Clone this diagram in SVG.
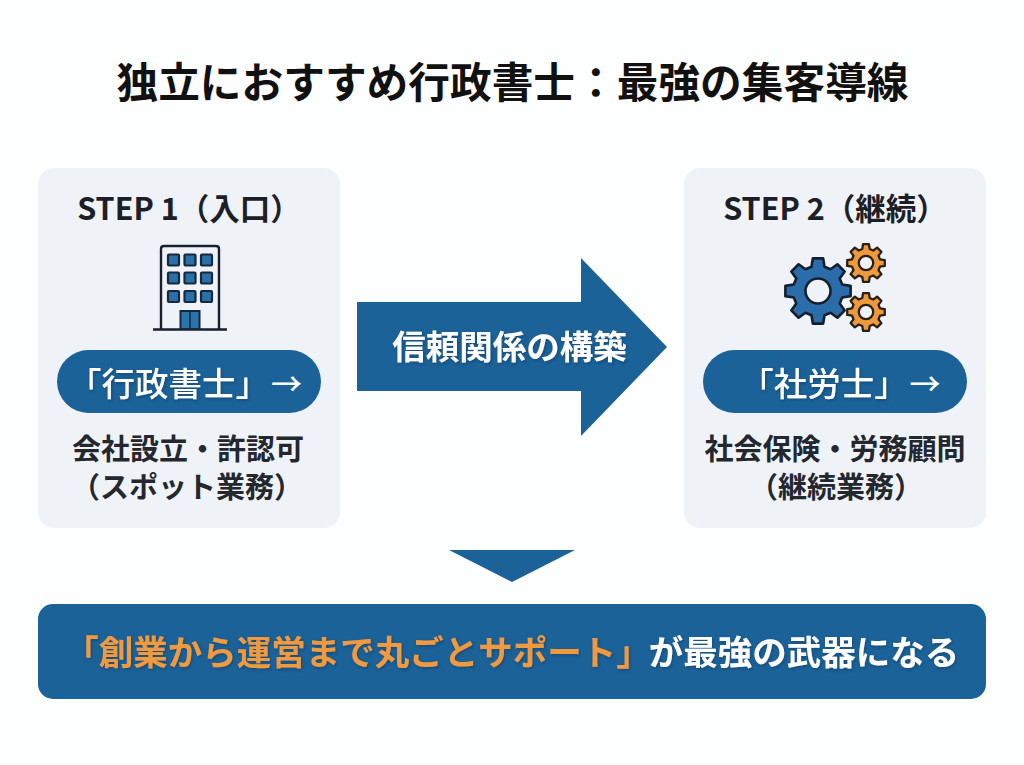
<svg xmlns="http://www.w3.org/2000/svg" xmlns:xlink="http://www.w3.org/1999/xlink" width="1024" height="765" viewBox="0 0 1024 765">
<style>
text{font-family:"Noto Sans CJK JP","Noto Sans",sans-serif;text-anchor:middle}
.panel{fill:#eff3f8}
.pill{fill:#1b6299}
.blue{fill:#1b6299}
.title{font-size:41.700px;font-weight:700;fill:#111}
.step{font-size:30.500px;font-weight:700;fill:#1c2026}
.pilltext{font-size:33.500px;font-weight:500;fill:#fff;filter:url(#soft)}
.pillarrow{font-size:31px;font-weight:500;fill:#fff}
.desc{font-size:29px;font-weight:700;fill:#24282e}
.arrowtext{font-size:33.500px;font-weight:700;fill:#fff;filter:url(#soft)}
.banner{font-size:34.500px;font-weight:700;filter:url(#soft)}
.line{stroke:#17202c;fill:none;stroke-width:2.400}
.win{fill:#2a6fa8;stroke:#14283f;stroke-width:2.200}
.gearb{fill:#2b6cab;stroke:#14202e;stroke-width:8;stroke-linejoin:round;fill-rule:evenodd}
.gearo{fill:#ee9a3c;stroke:#2a2018;stroke-width:12;stroke-linejoin:round;fill-rule:evenodd}
</style>
<defs>
<filter id="soft" x="-5%" y="-20%" width="110%" height="140%"><feDropShadow dx="1" dy="1.500" stdDeviation="1.500" flood-color="#0c3556" flood-opacity=".55"/></filter>
<path id="gear" d="M-19.700-73.400L-15.600-98.800L15.600-98.800L19.700-73.400L38-65.800L58.800-80.900L80.900-58.800L65.800-38L73.400-19.700L98.800-15.600L98.800 15.600L73.400 19.700L65.800 38L80.900 58.800L58.800 80.900L38 65.800L19.700 73.400L15.600 98.800L-15.600 98.800L-19.700 73.400L-38 65.800L-58.800 80.900L-80.900 58.800L-65.800 38L-73.400 19.700L-98.800 15.600L-98.800-15.600L-73.400-19.700L-65.800-38L-80.900-58.800L-58.800-80.900L-38-65.800ZM38 0A38 38 0 1 0-38 0A38 38 0 1 0 38 0Z"/>
</defs>
<rect width="1024" height="765" fill="#fdfefe"/>
<text class="title" x="512.500" y="98">独立におすすめ行政書士：最強の集客導線</text>
<g id="step1">
<rect class="panel" x="38" y="168" width="302" height="360" rx="16"/>
<text class="step" x="189" y="220">STEP 1（入口）</text>
<g id="building">
<path class="line" d="M153 329.500H227M161 329V249Q161 246 164 246H216Q219 246 219 249V329"/>
<rect class="win" x="168" y="254.500" width="11" height="11" rx="1"/><rect class="win" x="184.500" y="254.500" width="11" height="11" rx="1"/><rect class="win" x="201" y="254.500" width="11" height="11" rx="1"/>
<rect class="win" x="168" y="272.500" width="11" height="11" rx="1"/><rect class="win" x="184.500" y="272.500" width="11" height="11" rx="1"/><rect class="win" x="201" y="272.500" width="11" height="11" rx="1"/>
<rect class="win" x="168" y="291" width="11" height="11" rx="1"/><rect class="win" x="184.500" y="291" width="11" height="11" rx="1"/><rect class="win" x="201" y="291" width="11" height="11" rx="1"/>
<path d="M180.500 329V311H199.500V329Z" fill="#2a75ae" stroke="#14283f" stroke-width="2"/><path d="M190 311V329" stroke="#14283f" stroke-width="1.500"/>
</g>
<rect class="pill" x="57" y="350" width="264" height="63" rx="31.500"/>
<text class="pilltext" x="168.500" y="396">「行政書士」</text>
<text class="pillarrow" x="286.500" y="395">→</text>
<text class="desc" x="188" y="460">会社設立・許認可</text>
<text class="desc" x="187" y="498">（スポット業務）</text>
</g>
<g id="step2">
<rect class="panel" x="684" y="168" width="302" height="360" rx="16"/>
<text class="step" x="835" y="220">STEP 2（継続）</text>
<g id="gears">
<use xlink:href="#gear" href="#gear" class="gearb" transform="translate(818 291) scale(.33)"/>
<use xlink:href="#gear" href="#gear" class="gearo" transform="translate(866 263) scale(.19)"/>
<use xlink:href="#gear" href="#gear" class="gearo" transform="translate(866 312) scale(.19)"/>
</g>
<rect class="pill" x="703" y="350" width="264" height="63" rx="31.500"/>
<text class="pilltext" x="824" y="396">「社労士」</text>
<text class="pillarrow" x="925" y="395">→</text>
<text class="desc" x="835" y="460">社会保険・労務顧問</text>
<text class="desc" x="836" y="498">（継続業務）</text>
</g>
<g id="connectors">
<path id="main-arrow" class="blue" d="M357 302H581V258L667 347L581 436V391H357Z"/>
<path id="down-arrow" class="blue" d="M449 550H575L512 582Z"/>
</g>
<text class="arrowtext" x="509.500" y="359">信頼関係の構築</text>
<g id="banner">
<rect class="pill" x="38" y="604" width="948" height="95" rx="15"/>
<text class="banner" y="665"><tspan x="357.500" fill="#f09a3e">「創業から運営まで丸ごとサポート」</tspan><tspan x="804" fill="#fff">が最強の武器になる</tspan></text>
</g>
</svg>
